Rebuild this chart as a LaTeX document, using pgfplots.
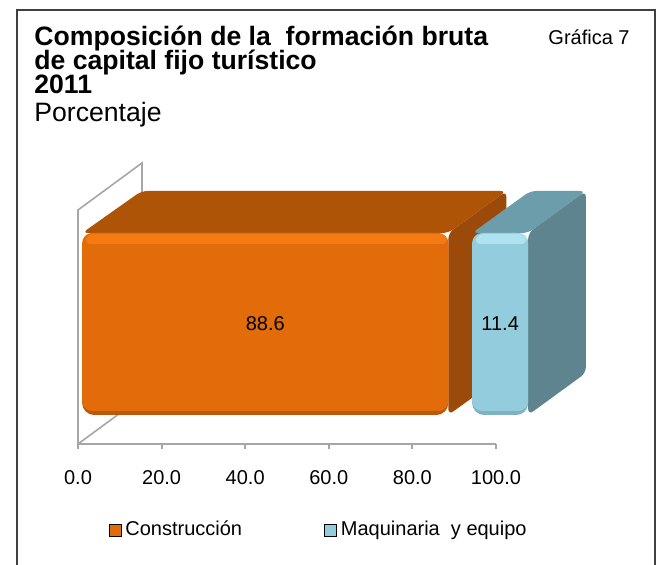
\documentclass[border=0pt]{standalone}
\usepackage{fontspec}
\setmainfont{Liberation Sans}
\usepackage{pgfplots}
\pgfplotsset{compat=1.18}
\definecolor{orfront}{HTML}{E36C0A}
\definecolor{orlight}{HTML}{F47B14}
\definecolor{ordark}{HTML}{BC580A}
\definecolor{ortop}{HTML}{AE5406}
\definecolor{orside}{HTML}{9C4A0A}
\definecolor{blfront}{HTML}{93CDDD}
\definecolor{bllight}{HTML}{AEE2EE}
\definecolor{bldark}{HTML}{7FB2C0}
\definecolor{bltop}{HTML}{6C9DAA}
\definecolor{blside}{HTML}{5E8490}
\definecolor{wallgray}{HTML}{A6A6A6}
\definecolor{framegray}{HTML}{404040}
\begin{document}
\begin{tikzpicture}[x=0.5pt,y=0.5pt]
% picture coordinates: X = px, Y = 565 - py
\useasboundingbox (0,0) rectangle (657,565);
\draw[line width=1pt, framegray] (17,-5) -- (17,555) -- (655,555) -- (655,-5);
\node[anchor=base west, inner sep=0, font=\bfseries\fontsize{13.3}{15}\selectfont] at (34,519) {Composición de la\ \ formación bruta};
\node[anchor=base west, inner sep=0, font=\bfseries\fontsize{13.3}{15}\selectfont] at (34,495) {de capital fijo turístico};
\node[anchor=base west, inner sep=0, font=\bfseries\fontsize{13.3}{15}\selectfont] at (34,471) {2011};
\node[anchor=base west, inner sep=0, font=\fontsize{13.3}{15}\selectfont] at (34,443) {Porcentaje};
\node[anchor=base east, inner sep=0, font=\fontsize{10}{12}\selectfont] at (630,520) {Gráfica 7};
\begin{axis}[
  at={(39pt,60.5pt)}, anchor=south west, scale only axis,
  width=209pt, height=150pt,
  xmin=0, xmax=100, ymin=0, ymax=300, clip=false,
  axis y line=none, axis x line*=bottom,
  x axis line style={-, draw=wallgray, line width=1pt},
  xtick={0,20,...,100}, tick align=outside,
  xtick style={draw=wallgray, line width=1pt},
  major tick length=2.5pt,
  xticklabel style={font=\fontsize{10}{12}\selectfont, yshift=-7pt},
  /pgf/number format/.cd, fixed, fixed zerofill, precision=1, assume math mode=true,
  /pgfplots/.cd,
  legend image code/.code={\fill[#1] (0pt,-3pt) rectangle (6pt,3pt);},
  legend style={at={(rel axis cs:0.578,-0.287)}, anchor=center, draw=none, fill=none,
    legend columns=2, font=\fontsize{10}{12}\selectfont,
    /tikz/every even column/.append style={column sep=39pt}},
]
% back wall
\addplot[forget plot, draw=wallgray, line width=0.8pt, fill=white] coordinates {(0,0) (0,234) (15.3,281) (15.3,47)} -- cycle;
% Construccion 88.6
\addplot[forget plot, draw=none, fill=ortop, rounded corners=3pt] coordinates {(1,211) (15.2,253) (102.5,253) (88.6,211)} -- cycle;
\addplot[forget plot, draw=none, fill=orside, rounded corners=3pt] coordinates {(88.6,29) (88.6,211) (102.5,253) (102.5,71)} -- cycle;
\addplot[forget plot, draw=none, fill=ordark, rounded corners=6pt] coordinates {(1,29) (1,211) (88.6,211) (88.6,29)} -- cycle;
\addplot[forget plot, draw=none, fill=orfront, rounded corners=5pt] coordinates {(1,33) (1,211) (88.6,211) (88.6,33)} -- cycle;
\addplot[forget plot, draw=none, fill=orlight, rounded corners=3pt] coordinates {(1.6,200) (2.2,210) (88.0,210) (88.4,200)} -- cycle;
% Maquinaria y equipo 11.4
\addplot[forget plot, draw=none, fill=bltop, rounded corners=3pt] coordinates {(94.3,211) (108.2,253) (121.5,253) (107.7,211)} -- cycle;
\addplot[forget plot, draw=none, fill=blside, rounded corners=3pt] coordinates {(107.7,29) (107.7,211) (121.5,253) (121.5,71)} -- cycle;
\addplot[forget plot, draw=none, fill=bldark, rounded corners=6pt] coordinates {(94.3,29) (94.3,211) (107.7,211) (107.7,29)} -- cycle;
\addplot[forget plot, draw=none, fill=blfront, rounded corners=5pt] coordinates {(94.3,33) (94.3,211) (107.7,211) (107.7,33)} -- cycle;
\addplot[forget plot, draw=none, fill=bllight, rounded corners=3pt] coordinates {(94.9,200) (95.5,210) (107.1,210) (107.5,200)} -- cycle;
\node[font=\fontsize{10}{12}\selectfont] at (axis cs:44.8,120) {88.6};
\node[font=\fontsize{10}{12}\selectfont] at (axis cs:101,120) {11.4};
\addlegendimage{fill=orfront}
\addlegendentry{Construcción}
\addlegendimage{fill=blfront}
\addlegendentry{Maquinaria\ \ y equipo}
\end{axis}
\end{tikzpicture}
\end{document}
